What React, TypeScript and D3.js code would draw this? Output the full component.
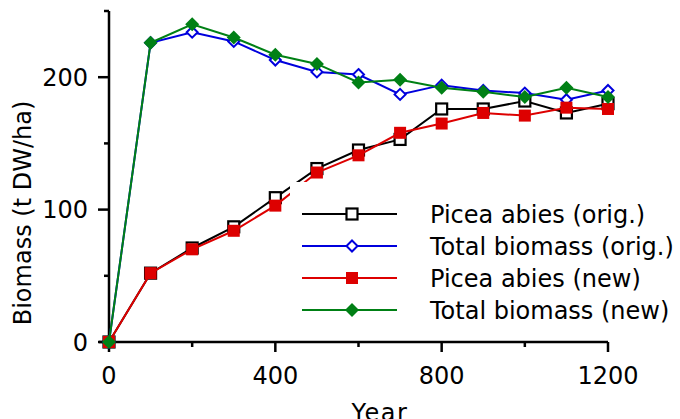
import React from "react";
import * as d3 from "d3";

const years = [0, 100, 200, 300, 400, 500, 600, 700, 800, 900, 1000, 1100, 1200];
const piceaOrig = [0, 52, 71, 87, 109, 131, 145, 153, 176, 176, 182, 173, 180];
const totalOrig = [0, 226, 234, 227, 213, 204, 202, 187, 194, 190, 188, 183, 190];
const piceaNew = [0, 52, 70, 84, 103, 128, 141, 158, 165, 173, 171, 177, 176];
const totalNew = [0, 226, 240, 230, 217, 210, 196, 198, 192, 189, 185, 192, 185];

const xMajor = [0, 400, 800, 1200];
const xMinor = [200, 600, 1000];
const yMajor = [0, 100, 200];
const yMinor = [50, 150, 250];

const seriesNames = [
  "Picea abies (orig.)",
  "Total biomass (orig.)",
  "Picea abies (new)",
  "Total biomass (new)",
];

const FONT = "DejaVu Sans, Verdana, sans-serif";

type Series = { name: string; values: number[]; color: string; marker: "sq-open" | "dia-open" | "sq" | "dia" };

const series: Series[] = [
  { name: seriesNames[0], values: piceaOrig, color: "#000000", marker: "sq-open" },
  { name: seriesNames[1], values: totalOrig, color: "#0000dd", marker: "dia-open" },
  { name: seriesNames[2], values: piceaNew, color: "#dd0000", marker: "sq" },
  { name: seriesNames[3], values: totalNew, color: "#008015", marker: "dia" },
];

const Marker = ({ s, x, y }: { s: Series; x: number; y: number }) => {
  if (s.marker === "sq-open")
    return <rect x={x - 5.5} y={y - 5.5} width={11} height={11} fill="#fff" stroke={s.color} strokeWidth={2.2} />;
  if (s.marker === "sq")
    return <rect x={x - 6} y={y - 6} width={12} height={12} fill={s.color} />;
  const r = s.marker === "dia" ? 7 : 5.5;
  const pts = `${x},${y - r} ${x + r},${y} ${x},${y + r} ${x - r},${y}`;
  return s.marker === "dia" ? (
    <polygon points={pts} fill={s.color} />
  ) : (
    <polygon points={pts} fill="#fff" stroke={s.color} strokeWidth={2} />
  );
};

export default function App() {
  const W = 680;
  const H = 419;
  const x = d3.scaleLinear().domain([0, 1200]).range([109, 608]);
  const y = d3.scaleLinear().domain([0, 250]).range([342, 11]);
  const line = d3
    .line<number>()
    .x((_, i) => x(years[i]))
    .y((d) => y(d));

  const legX0 = 302;
  const legX1 = 397;
  const legM = 352;
  const legRows = [214, 246, 278, 310];

  return (
    <svg width={W} height={H} style={{ position: "absolute", left: 0, top: 0, background: "#fff" }}>
      <rect width={W} height={H} fill="#fff" />
      {/* axes */}
      <g stroke="#000" strokeWidth={2.5} fill="none">
        <line x1={x(0)} x2={x(0)} y1={y(250)} y2={y(0)} />
        <line x1={99} x2={x(1200)} y1={y(0)} y2={y(0)} />
        {yMajor.map((v) => (
          <line key={"ym" + v} x1={x(0) - 11} x2={x(0)} y1={y(v)} y2={y(v)} />
        ))}
        {yMinor.map((v) => (
          <line key={"yn" + v} x1={x(0) - 5} x2={x(0)} y1={y(v)} y2={y(v)} />
        ))}
        {xMajor.map((v) => (
          <line key={"xm" + v} x1={x(v)} x2={x(v)} y1={y(0)} y2={y(0) + 10} />
        ))}
        {xMinor.map((v) => (
          <line key={"xn" + v} x1={x(v)} x2={x(v)} y1={y(0)} y2={y(0) + 5} />
        ))}
      </g>
      <g fontFamily={FONT} fontSize={24} fill="#000">
        {yMajor.map((v) => (
          <text key={"yl" + v} x={x(0) - 21} y={y(v)} dy="0.36em" textAnchor="end">
            {v}
          </text>
        ))}
        {xMajor.map((v) => (
          <text key={"xl" + v} x={x(v)} y={384} textAnchor="middle">
            {v}
          </text>
        ))}
        <text x={380} y={421} textAnchor="middle" letterSpacing={1.5}>
          Year
        </text>
        <text transform="translate(31,213) rotate(-90)" textAnchor="middle">
          Biomass (t DW/ha)
        </text>
      </g>
      {/* series */}
      {series.map((s) => (
        <g key={s.name}>
          <path d={line(s.values) || ""} fill="none" stroke={s.color} strokeWidth={2} />
          {s.values.map((v, i) => (
            <Marker key={i} s={s} x={x(years[i])} y={y(v)} />
          ))}
        </g>
      ))}
      {/* legend */}
      <rect x={290} y={182} width={385} height={144} fill="#fff" />
      {series.map((s, i) => (
        <g key={"leg" + i}>
          <line x1={legX0} x2={legX1} y1={legRows[i]} y2={legRows[i]} stroke={s.color} strokeWidth={2} />
          <Marker s={s} x={legM} y={legRows[i]} />
          <text x={430} y={legRows[i]} dy="0.36em" fontFamily={FONT} fontSize={24}>
            {s.name}
          </text>
        </g>
      ))}
    </svg>
  );
}
